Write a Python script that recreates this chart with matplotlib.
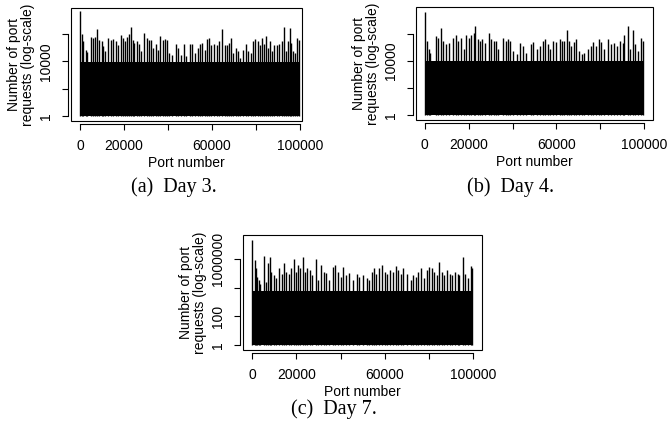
import numpy as np
import matplotlib
matplotlib.use("Agg")
import matplotlib.pyplot as plt
from matplotlib.patches import Rectangle
from matplotlib.ticker import NullLocator

plt.rcParams["font.family"] = ["Liberation Sans", "DejaVu Sans"]
plt.rcParams["font.size"] = 10

W, H = 668, 437

# ports with request counts above the dense band (log10 of the count)
day3_ports = [0, 900, 1500, 2700, 3300, 4800, 5800, 6800, 7900, 8800,
              9800, 10600, 11500, 12600, 13900, 15200, 16200, 17300, 18800, 19700,
              20600, 21500, 22400, 23000, 23900, 24700, 25800, 26700, 27900, 28900,
              30500, 31200, 32300, 33300, 34500, 35300, 36500, 37600, 38500, 39400,
              40300, 41700, 43600, 44700, 45900, 47300, 48000, 50000, 50900, 52300,
              53800, 54800, 55600, 56700, 57600, 58800, 59800, 60900, 62100, 63300,
              64700, 65800, 66700, 67700, 68800, 69800, 70800, 72000, 73000, 74200,
              75300, 76500, 78000, 78800, 79800, 80800, 81800, 82900, 83600, 84500,
              85600, 86400, 87400, 88300, 89400, 90600, 91700, 92600, 93600, 94500,
              95500, 96100, 97000, 97900, 98900, 99700]
day3_log10 = [7.66, 5.98, 5.45, 4.84, 4.70, 5.80, 5.70, 5.80, 6.36, 5.57,
              5.45, 5.08, 4.72, 5.73, 5.52, 5.60, 5.45, 5.20, 5.93, 5.70,
              5.45, 5.80, 5.98, 6.50, 5.57, 5.33, 5.45, 5.25, 4.72, 6.05,
              5.73, 5.57, 5.52, 4.96, 5.25, 4.84, 5.86, 5.57, 5.60, 5.54,
              4.60, 4.48, 5.28, 4.96, 4.48, 5.25, 4.36, 5.25, 5.28, 4.60,
              4.96, 5.28, 5.33, 4.84, 5.60, 5.70, 5.20, 5.25, 5.20, 5.45,
              6.34, 5.20, 5.20, 5.33, 5.70, 4.60, 4.96, 4.72, 4.24, 4.84,
              5.25, 4.72, 4.60, 5.45, 5.60, 5.45, 5.20, 5.70, 5.25, 5.86,
              4.96, 5.45, 4.72, 5.20, 5.20, 5.28, 5.45, 6.53, 4.72, 5.45,
              6.46, 5.33, 4.72, 4.60, 5.70, 5.57]
day3_band = 9000

day4_ports = [0, 800, 1700, 2600, 5000, 6100, 7600, 8300, 9800, 11100,
              12900, 14400, 15200, 16700, 17700, 18900, 20200, 21200, 22400, 23000,
              24200, 25000, 26200, 27300, 29100, 30300, 31400, 32600, 33300, 35600,
              36800, 37900, 38900, 40200, 42000, 43600, 44700, 46200, 48500, 49500,
              51100, 52300, 53800, 55000, 56100, 57100, 58600, 59800, 61400, 62400,
              63600, 64700, 65600, 66700, 67900, 68900, 70200, 71700, 72700, 74200,
              75800, 76800, 78000, 79200, 80300, 81800, 83300, 84800, 86400, 87600,
              88900, 90200, 90900, 92400, 93500, 94700, 95900, 97000, 98500, 99400]
day4_log10 = [7.61, 5.45, 4.90, 4.60, 5.80, 5.70, 6.40, 5.45, 5.20, 5.33,
              5.70, 5.93, 5.45, 5.70, 4.84, 5.93, 5.70, 5.86, 6.05, 6.53,
              5.57, 5.45, 5.57, 5.33, 6.05, 5.61, 5.45, 5.45, 4.84, 5.70,
              5.45, 5.57, 5.45, 4.72, 4.48, 5.33, 5.08, 4.60, 5.20, 5.37,
              4.84, 5.08, 5.45, 5.61, 5.20, 4.84, 5.45, 5.37, 5.57, 5.45,
              5.45, 6.29, 5.45, 5.08, 5.37, 5.57, 4.72, 4.48, 4.60, 4.84,
              5.08, 5.37, 5.08, 5.57, 5.37, 4.90, 5.61, 5.20, 5.33, 5.08,
              5.45, 5.33, 5.93, 6.53, 4.84, 6.29, 5.20, 4.72, 5.70, 5.45]
day4_band = 9000

day7_ports = [0, 1100, 1500, 2100, 2900, 3600, 5200, 6100, 7100, 7900,
              8600, 9700, 10600, 12100, 13300, 14200, 15500, 16500, 17700, 18800,
              19700, 20800, 21800, 23000, 24100, 25000, 26100, 27100, 28800, 29800,
              31100, 32400, 33600, 34800, 36700, 37700, 38900, 40000, 41200, 42300,
              43900, 45500, 47300, 48500, 50300, 51800, 53000, 54100, 55200, 56100,
              57600, 58900, 60200, 61200, 62400, 63600, 65000, 66200, 67300, 68500,
              70300, 71800, 73000, 74200, 75300, 76400, 77600, 79100, 80300, 81400,
              82400, 83600, 84800, 85900, 87000, 88200, 89400, 90500, 92000, 93000,
              93900, 95500, 96500, 97600, 99100, 99700]
day7_log10 = [7.36, 5.95, 5.36, 4.78, 4.54, 4.30, 6.26, 4.42, 5.72, 6.14,
              5.13, 4.89, 4.66, 5.36, 5.00, 5.72, 5.13, 4.94, 5.36, 6.00,
              5.13, 5.60, 5.36, 6.19, 5.13, 5.41, 5.25, 4.89, 6.00, 4.54,
              5.60, 5.13, 5.06, 4.54, 5.48, 5.60, 5.13, 4.78, 5.48, 4.89,
              5.06, 4.54, 5.00, 4.78, 4.89, 4.66, 4.54, 5.13, 5.36, 5.00,
              5.36, 5.60, 5.13, 5.00, 5.25, 5.13, 5.55, 5.25, 5.00, 5.36,
              5.00, 4.54, 4.89, 4.78, 5.13, 5.36, 4.66, 5.25, 5.48, 5.36,
              5.13, 4.89, 5.84, 5.13, 4.89, 5.25, 5.00, 4.89, 5.13, 5.00,
              4.89, 6.14, 5.00, 4.66, 5.55, 5.36]
day7_band = 6200

port_range = [0, 100000]
x_ticks = [0, 20000, 40000, 60000, 80000, 100000]
x_labels = ["0", "20000", "", "60000", "", "100000"]
y_ticks = [1, 100, 10000, 1000000]
y_labels_ab = ["1", "", "10000", ""]
y_labels_c = ["1", "100", "", "1000000"]


def px_axes(fig, left, top, right, bottom):
    return fig.add_axes([left / W, 1 - bottom / H, (right - left) / W, (bottom - top) / H])


def panel(ax, ports, log10s, band, xlim, ylim, ylabels):
    ax.fill_between(port_range, 1, band, color="black", lw=0)
    ax.vlines(ports, 1, 10 ** np.array(log10s), color="black", lw=1.0)
    ax.set_yscale("log")
    ax.set_xlim(*xlim)
    ax.set_ylim(*ylim)
    ax.spines["top"].set_visible(False)
    ax.spines["right"].set_visible(False)
    ax.spines["bottom"].set_position(("outward", 2.5))
    ax.spines["left"].set_position(("outward", 2.5))
    ax.spines["bottom"].set_bounds(0, 100000)
    ax.spines["left"].set_bounds(1, 1000000)
    for s in ["bottom", "left"]:
        ax.spines[s].set_linewidth(0.8)
    ax.add_patch(Rectangle((0, 0), 1, 1, transform=ax.transAxes, fill=False,
                           lw=0.8, ec="black", clip_on=False, zorder=5))
    ax.set_xticks(x_ticks)
    ax.set_xticklabels(x_labels)
    ax.set_yticks(y_ticks)
    ax.set_yticklabels(ylabels, rotation=90, va="center")
    ax.yaxis.set_minor_locator(NullLocator())
    ax.tick_params(length=4.3, width=0.8, pad=6, direction="out")
    ax.set_xlabel("Port number", labelpad=2)
    ax.set_ylabel("Number of port\nrequests (log-scale)", linespacing=1.0, labelpad=3)


fig = plt.figure(figsize=(W / 100, H / 100), dpi=100)

ax = px_axes(fig, 71, 8, 302, 121)
panel(ax, day3_ports, day3_log10, day3_band, (-4100, 101000), (10 ** -0.34, 10 ** 7.88), y_labels_ab)

ax = px_axes(fig, 416, 7, 653, 120)
panel(ax, day4_ports, day4_log10, day4_band, (-4000, 104000), (10 ** -0.34, 10 ** 7.95), y_labels_ab)

ax = px_axes(fig, 243, 235, 482, 350)
panel(ax, day7_ports, day7_log10, day7_band, (-4200, 104100), (10 ** -0.35, 10 ** 7.70), y_labels_c)

serif = ["Liberation Serif", "DejaVu Serif"]
fig.text(174 / W, 1 - 187 / H, "(a)  Day 3.", family=serif, size=14.5, ha="center", va="center")
fig.text(511 / W, 1 - 187 / H, "(b)  Day 4.", family=serif, size=14.5, ha="center", va="center")
fig.text(334 / W, 1 - 409 / H, "(c)  Day 7.", family=serif, size=14.5, ha="center", va="center")

fig.savefig("out.png", dpi=100)
